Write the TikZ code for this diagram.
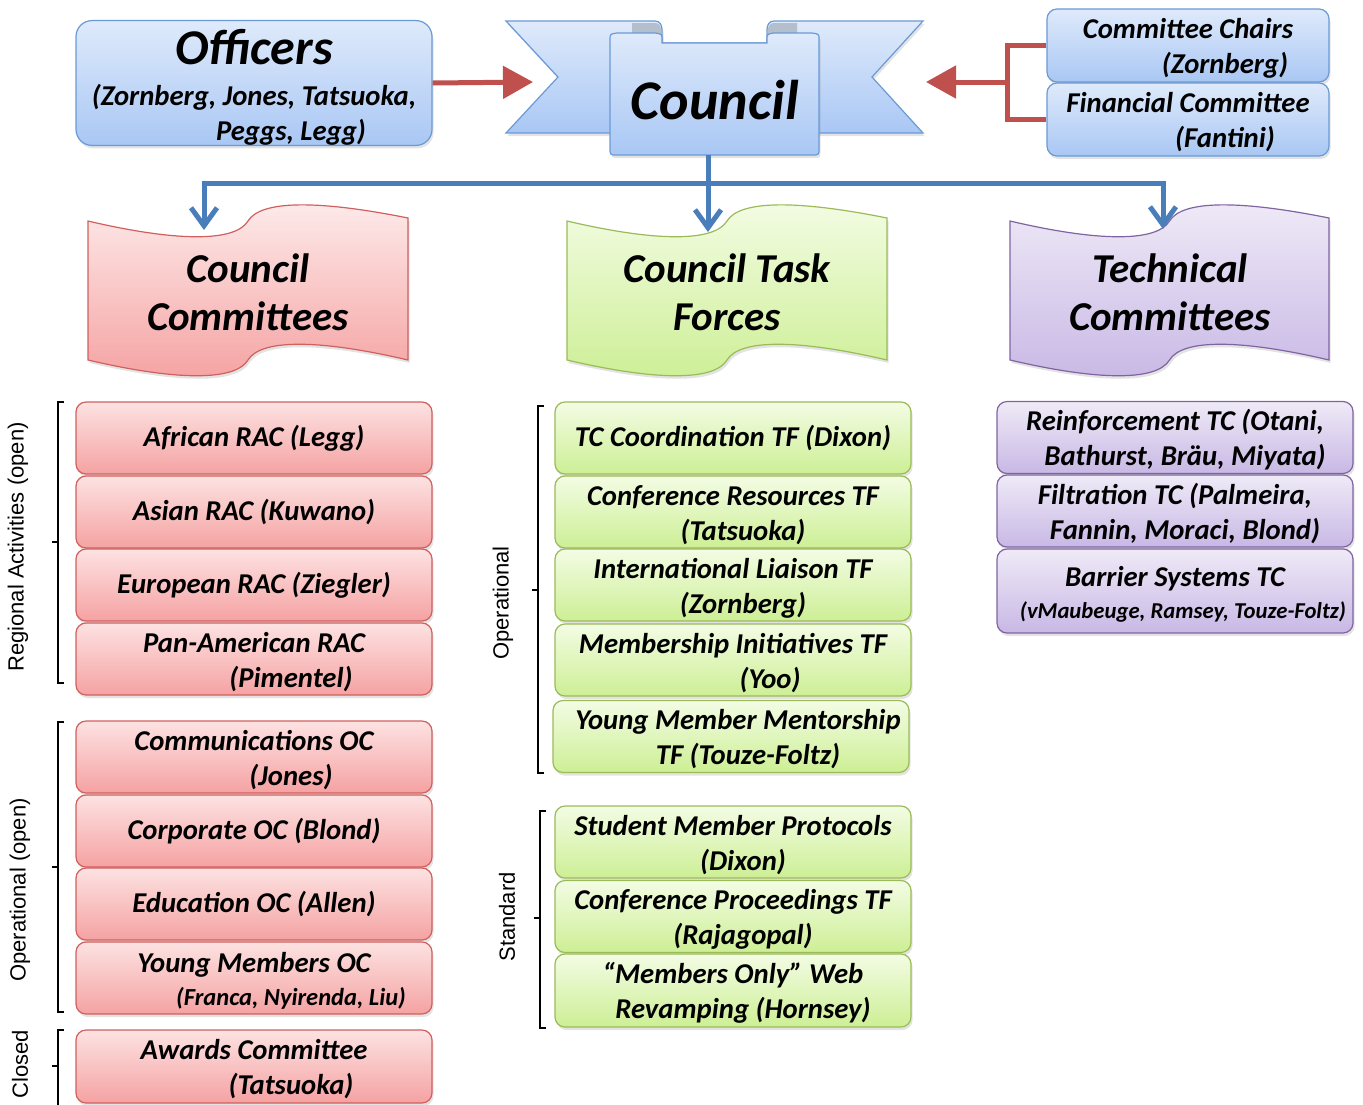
\documentclass[tikz,border=0pt]{standalone}
\usepackage{fontspec}
\setmainfont{Carlito}
\newfontfamily\arialfont{Liberation Sans}
\usetikzlibrary{arrows.meta,shadows}
\definecolor{bluetop}{HTML}{DFEAFB}
\definecolor{bluebot}{HTML}{A9C7F4}
\definecolor{blueborder}{HTML}{6A9AD6}
\definecolor{redtop}{HTML}{FDE2E2}
\definecolor{redbot}{HTML}{F5A2A2}
\definecolor{redborder}{HTML}{D0605E}
\definecolor{greentop}{HTML}{F3FCE4}
\definecolor{greenbot}{HTML}{CDEF95}
\definecolor{greenborder}{HTML}{9BBB59}
\definecolor{purpletop}{HTML}{EFEAF7}
\definecolor{purplebot}{HTML}{C8B8E5}
\definecolor{purpleborder}{HTML}{8064A2}
\definecolor{foldgray}{HTML}{B4BFCE}
\definecolor{arrowred}{HTML}{C0504D}
\definecolor{busblue}{HTML}{4A7EBB}
\newcommand{\boxfont}{\bfseries\itshape\fontsize{28.7}{35}\selectfont}
\newcommand{\hs}{\rule{0pt}{26pt}}
\begin{document}
\begin{tikzpicture}[x=1pt,y=-1pt,
  shade/.style={drop shadow={opacity=0.22,shadow xshift=1.5pt,shadow yshift=-3pt}},
  box/.style={shade,rounded corners=10pt,line width=1.2pt,minimum width=356pt,minimum height=72pt,inner sep=0pt,align=center,font=\boxfont},
  redbox/.style={box,draw=redborder,top color=redtop,bottom color=redbot},
  greenbox/.style={box,draw=greenborder,top color=greentop,bottom color=greenbot},
  purplebox/.style={box,draw=purpleborder,top color=purpletop,bottom color=purplebot},
  bluebox/.style={box,draw=blueborder,top color=bluetop,bottom color=bluebot},
  wave/.style n args={4}{insert path={(#1,#2) .. controls ({#1+0.28*#3},{#2+21}) and ({#1+0.46*#3},{#2+21}) .. ({#1+0.5*#3},#2) .. controls ({#1+0.54*#3},{#2-21}) and ({#1+0.72*#3},{#2-21}) .. ({#1+#3},{#2-3}) -- ({#1+#3},{#2+#4}) .. controls ({#1+0.72*#3},{#2+#4-21}) and ({#1+0.54*#3},{#2+#4-21}) .. ({#1+0.5*#3},{#2+#4}) .. controls ({#1+0.46*#3},{#2+#4+21}) and ({#1+0.28*#3},{#2+#4+21}) .. (#1,{#2+#4}) -- cycle}},
  wavetitle/.style={align=center,font=\bfseries\itshape\fontsize{41}{48}\selectfont,inner sep=0pt},
  sidelabel/.style={rotate=90,font=\arialfont\fontsize{22}{26}\selectfont,inner sep=0pt},
  bracket/.style={line width=1.1pt,black},
  redarrow/.style={line width=5pt,arrowred,-{Triangle[length=30pt,width=32pt]}},
  redline/.style={line width=5pt,arrowred},
  bus/.style={line width=5pt,busblue},
  barb/.style={-{Straight Barb[length=18pt,width=26pt]}}
]
\useasboundingbox (0,0) rectangle (1363,1104);

% ---------- Council banner ----------
\path[shade,draw=blueborder,line width=1.2pt,top color=bluetop,bottom color=bluebot]
  (506,21) -- (655,21) .. controls (660,21) and (662,25) .. (662,30) -- (662,43) -- (767,43) -- (767,30)
  .. controls (767,25) and (769,21) .. (774,21) -- (923,21) -- (872,77) -- (923,133) -- (506,133) -- (558,77) -- cycle;
\fill[foldgray] (632,23) -- (655,23) .. controls (659,23) and (661,26) .. (661,30) -- (661,42) -- (632,42) -- cycle;
\fill[foldgray] (768,30) .. controls (768,26) and (770,23) .. (774,23) -- (797,23) -- (797,42) -- (768,42) -- cycle;
\path[shade,draw=blueborder,line width=1.2pt,top color=bluetop,bottom color=bluebot]
  (610,148) -- (610,40) .. controls (610,34) .. (617,33) -- (655,33) .. controls (662,34) .. (662,40) -- (662,43)
  -- (767,43) -- (767,40) .. controls (767,34) .. (774,33) -- (812,33) .. controls (819,34) .. (819,40)
  -- (819,148) .. controls (819,155) .. (812,155) -- (617,155) .. controls (610,155) .. (610,148) -- cycle;
\node[font=\bfseries\itshape\fontsize{56}{56}\selectfont,anchor=base,inner sep=0pt] (council) at (715,119) {Council};
\coordinate (councilL) at (533,82);
\coordinate (councilR) at (926,82);
\coordinate (councilBot) at (708,155);

% ---------- Officers ----------
\node[bluebox,rounded corners=16pt,minimum height=124pt] (officers) at (254,83)
  {{\fontsize{50}{50}\selectfont\rule{0pt}{44pt}Officers}\\[6pt](Zornberg, Jones, Tatsuoka,\\\hspace*{74pt}Peggs, Legg)};
\draw[redarrow] (officers.east) -- (councilL);

% ---------- Committee chairs / financial ----------
\node[bluebox,minimum width=282pt,minimum height=73pt] (chairs) at (1188,45.5) {\hs Committee Chairs\\\hspace*{74pt}(Zornberg)};
\node[bluebox,minimum width=282pt,minimum height=73pt] (fin) at (1188,119.5) {\hs Financial Committee\\\hspace*{74pt}(Fantini)};
\coordinate (brk) at (1007,82);
\draw[redline] (chairs.west) -| (brk) |- (fin.west);
\draw[redarrow] (brk) -- (councilR);

% ---------- Waves ----------
\path[shade,draw=redborder,line width=1.2pt,top color=redtop!70!white,bottom color=redbot,wave={88}{221}{320}{139}];
\path[shade,draw=greenborder,line width=1.2pt,top color=greentop,bottom color=greenbot,wave={567}{221}{320}{139}];
\path[shade,draw=purpleborder,line width=1.2pt,top color=purpletop,bottom color=purplebot,wave={1010}{221}{319}{139}];
\node[wavetitle] (ccTitle) at (248,292) {Council\\Committees};
\node[wavetitle] (tfTitle) at (727,292) {Council Task\\Forces};
\node[wavetitle] (tcTitle) at (1170,292) {Technical\\Committees};

% ---------- Bus connectors ----------
\coordinate (busM) at (708,183);
\coordinate (ccTip) at (204,230);
\coordinate (tfTip) at (708,232);
\coordinate (tcTip) at (1163,229);
\draw[bus] (councilBot) -- (busM);
\draw[bus,barb] (busM) -| (ccTip);
\draw[bus,barb] (busM) -| (tcTip);
\draw[bus,barb] (busM) -- (tfTip);

% ---------- Council committees ----------
\node[redbox] (african) at (254,438) {African RAC (Legg)};
\node[redbox] (asian) at (254,512) {Asian RAC (Kuwano)};
\node[redbox] (european) at (254,585) {European RAC (Ziegler)};
\node[redbox] (panam) at (254,659) {\hs Pan-American RAC\\\hspace*{74pt}(Pimentel)};
\node[redbox] (comms) at (254,757) {\hs Communications OC\\\hspace*{74pt}(Jones)};
\node[redbox] (corporate) at (254,831) {Corporate OC (Blond)};
\node[redbox] (education) at (254,904) {Education OC (Allen)};
\node[redbox] (young) at (254,978) {\hs Young Members OC\\[-2pt]\hspace*{74pt}{\fontsize{24.5}{28}\selectfont(Franca, Nyirenda, Liu)}};
\node[redbox,minimum height=73pt] (awards) at (254,1066.5) {\hs Awards Committee\\\hspace*{74pt}(Tatsuoka)};

% ---------- Council task forces ----------
\node[greenbox] (tccoord) at (733,438) {TC Coordination TF (Dixon)};
\node[greenbox] (confres) at (733,512) {\hs Conference Resources TF\\\hspace*{20pt}(Tatsuoka)};
\node[greenbox] (intl) at (733,585) {\hs International Liaison TF\\\hspace*{20pt}(Zornberg)};
\node[greenbox] (member) at (733,660) {\hs Membership Initiatives TF\\\hspace*{74pt}(Yoo)};
\node[greenbox] (mentor) at (731,736.5) {\hs\hspace*{14pt}Young Member Mentorship\\\hspace*{34pt}TF (Touze-Foltz)};
\node[greenbox] (student) at (733,842) {\hs Student Member Protocols\\\hspace*{20pt}(Dixon)};
\node[greenbox] (procs) at (733,916.5) {\hs Conference Proceedings TF\\\hspace*{20pt}(Rajagopal)};
\node[greenbox,minimum height=73pt] (web) at (733,990.5) {\hs “Members Only” Web\\\hspace*{20pt}Revamping (Hornsey)};

% ---------- Technical committees ----------
\node[purplebox] (reinf) at (1175,437.5) {\hs Reinforcement TC (Otani,\\\hspace*{20pt}Bathurst, Bräu, Miyata)};
\node[purplebox] (filt) at (1175,511) {\hs Filtration TC (Palmeira,\\\hspace*{20pt}Fannin, Moraci, Blond)};
\node[purplebox,minimum height=84pt] (barrier) at (1175,591) {\hs Barrier Systems TC\\[-3pt]\hspace*{16pt}{\fontsize{22.7}{27}\selectfont(vMaubeuge, Ramsey, Touze-Foltz)}};

% ---------- Brackets ----------
\draw[bracket] (64,402) -- (58,402) -- (58,683) -- (64,683) (58,542) -- (52,542);
\draw[bracket] (64,722) -- (58,722) -- (58,1012) -- (64,1012) (58,867) -- (52,867);
\draw[bracket] (64,1030) -- (58,1030) -- (58,1110) (58,1066) -- (52,1066);
\draw[bracket] (544,406) -- (538,406) -- (538,773) -- (544,773) (538,590) -- (532,590);
\draw[bracket] (546,811) -- (540,811) -- (540,1028) -- (546,1028) (540,918) -- (534,918);

\node[sidelabel] (lblRA) at (18,547) {Regional Activities (open)};
\node[sidelabel] (lblOO) at (20,890) {Operational (open)};
\node[sidelabel] (lblCl) at (20,1064) {Closed};
\node[sidelabel] (lblOp) at (503,603) {Operational};
\node[sidelabel] (lblSt) at (507,917) {Standard};
\end{tikzpicture}
\end{document}
